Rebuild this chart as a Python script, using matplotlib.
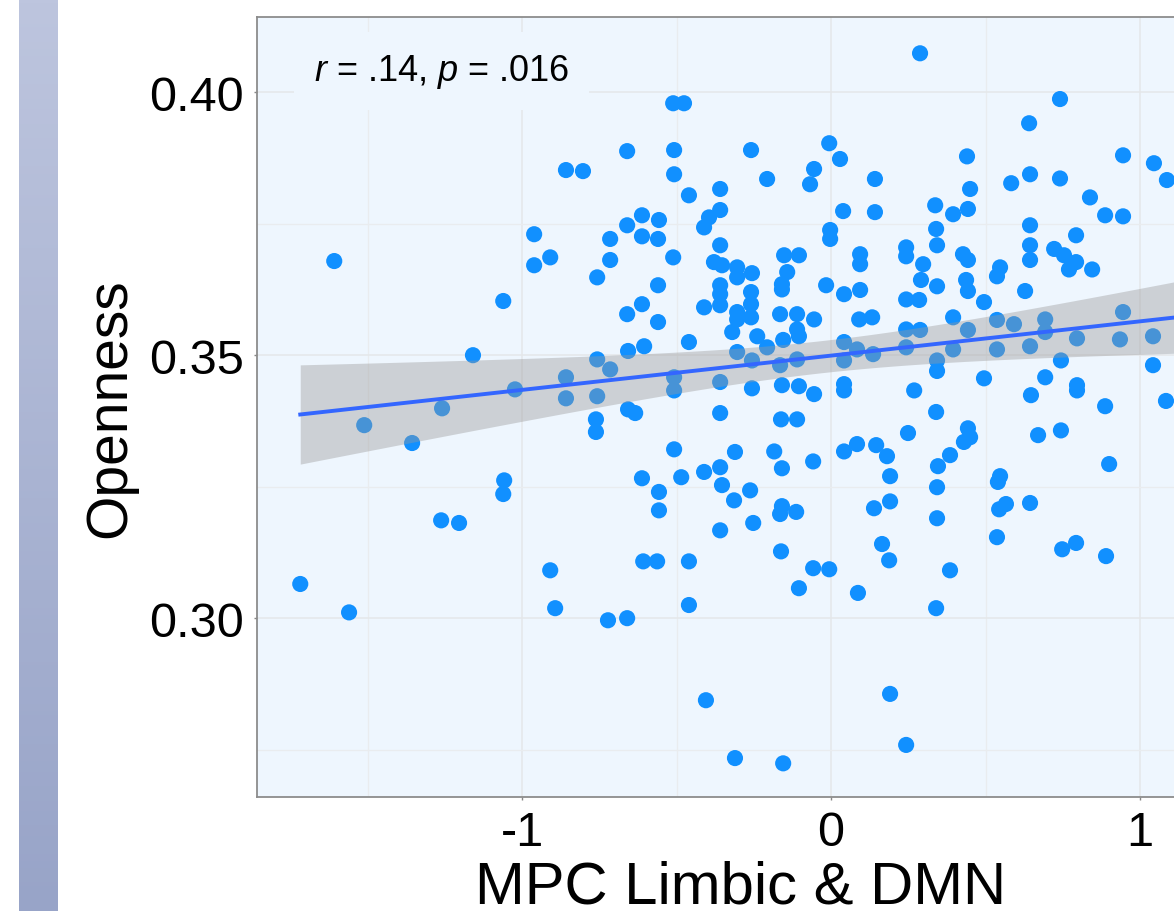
import numpy as np
import matplotlib
matplotlib.use('Agg')
import matplotlib.pyplot as plt
from matplotlib.colors import LinearSegmentedColormap

plt.rcParams['font.family'] = ['Liberation Sans', 'DejaVu Sans']
plt.rcParams['mathtext.fontset'] = 'custom'
plt.rcParams['mathtext.rm'] = 'Liberation Sans'
plt.rcParams['mathtext.it'] = 'Liberation Sans:italic'
plt.rcParams['axes.unicode_minus'] = False

# values (MPC Limbic & DMN score, Openness)
mpc = np.array([
    -1.718, -1.608, -1.560, -1.511, -1.356, -1.259, -1.262, -1.204, -1.159, -1.061,
    -1.058, -1.061, -1.023, -0.961, -0.909, -0.961, -0.858, -0.909, -0.893, -0.858,
    -0.858, -0.803, -0.511, -0.476, -0.660, -0.508, -0.259, -0.508, -0.207, -0.460,
    -0.359, -0.055, -0.068, -0.006, 0.029, 0.142, 0.039, 0.142, -0.359, -0.395,
    -0.411, -0.612, -0.660, -0.557, -0.612, -0.560, -0.715, -0.715, -0.757, -0.511,
    -0.359, -0.379, -0.353, -0.304, -0.304, -0.256, -0.152, -0.104, -0.142, -0.159,
    -0.159, -0.003, -0.003, -0.016, 0.042, 0.094, 0.094, 0.094, -0.560, -0.359,
    -0.359, -0.411, -0.359, -0.612, -0.660, -0.560, -0.259, -0.259, -0.304, -0.259,
    -0.304, -0.320, -0.239, -0.165, -0.110, -0.055, -0.110, -0.104, -0.155, -0.207,
    0.091, 0.133, -0.460, -0.605, -0.657, -0.757, -0.715, -0.304, -0.256, -0.165,
    -0.110, 0.042, 0.042, 0.084, 0.136, -0.508, -0.508, -0.359, -0.256, -0.159,
    -0.104, -0.055, 0.042, 0.042, -0.757, -0.657, -0.634, -0.359, -0.761, -0.761,
    -0.162, -0.110, -0.508, -0.311, -0.184, -0.159, -0.058, 0.042, 0.084, 0.146,
    -0.612, -0.485, -0.411, -0.359, -0.353, -0.314, -0.262, -0.557, -0.557, -0.159,
    -0.165, -0.113, 0.139, -0.359, -0.252, 0.165, -0.608, -0.563, -0.460, -0.162,
    -0.058, -0.006, -0.104, 0.087, -0.460, -0.722, -0.660, -0.405, -0.311, -0.155,
    0.288, 0.741, 0.641, 0.440, 0.945, 1.045, 1.087, 0.644, 0.741, 0.583,
    0.450, 0.337, 0.395, 0.443, 0.838, 0.887, 0.945, 0.644, 0.793, 0.340,
    0.343, 0.243, 0.243, 0.298, 0.427, 0.443, 0.644, 0.644, 0.722, 0.754,
    0.793, 0.770, 0.845, 0.547, 0.537, 0.291, 0.343, 0.437, 0.443, 0.495,
    0.628, 0.243, 0.285, 0.395, 0.243, 0.288, 0.243, 0.443, 0.537, 0.592,
    0.693, 0.693, 0.537, 0.395, 0.644, 0.796, 0.945, 0.935, 1.042, 0.343,
    0.343, 0.744, 1.042, 0.495, 0.693, 0.796, 0.796, 0.269, 0.647, 0.887,
    1.084, 0.340, 0.249, 0.443, 0.430, 0.450, 0.385, 0.346, 0.181, 0.191,
    0.343, 0.191, 0.343, 0.547, 0.540, 0.566, 0.544, 0.644, 0.537, 0.670,
    0.744, 0.900, 0.188, 0.385, 0.340, 0.748, 0.793, 0.890, 0.191, 0.243,
])
openness = np.array([
    0.3065, 0.3679, 0.3011, 0.3367, 0.3333, 0.3399, 0.3186, 0.3181, 0.3500, 0.3603,
    0.3262, 0.3236, 0.3435, 0.3730, 0.3686, 0.3671, 0.3852, 0.3091, 0.3019, 0.3458,
    0.3418, 0.3850, 0.3979, 0.3979, 0.3888, 0.3890, 0.3890, 0.3844, 0.3835, 0.3804,
    0.3816, 0.3854, 0.3825, 0.3903, 0.3873, 0.3835, 0.3774, 0.3772, 0.3776, 0.3762,
    0.3743, 0.3766, 0.3747, 0.3757, 0.3726, 0.3721, 0.3721, 0.3681, 0.3648, 0.3686,
    0.3709, 0.3677, 0.3671, 0.3667, 0.3648, 0.3656, 0.3690, 0.3690, 0.3658, 0.3635,
    0.3625, 0.3738, 0.3721, 0.3633, 0.3616, 0.3624, 0.3692, 0.3673, 0.3633, 0.3633,
    0.3616, 0.3591, 0.3595, 0.3597, 0.3578, 0.3563, 0.3620, 0.3597, 0.3582, 0.3572,
    0.3568, 0.3544, 0.3536, 0.3578, 0.3578, 0.3568, 0.3549, 0.3536, 0.3529, 0.3515,
    0.3568, 0.3572, 0.3525, 0.3517, 0.3508, 0.3492, 0.3473, 0.3506, 0.3490, 0.3481,
    0.3492, 0.3525, 0.3490, 0.3511, 0.3502, 0.3458, 0.3433, 0.3449, 0.3437, 0.3443,
    0.3441, 0.3426, 0.3445, 0.3433, 0.3422, 0.3397, 0.3390, 0.3390, 0.3378, 0.3354,
    0.3378, 0.3378, 0.3321, 0.3316, 0.3317, 0.3285, 0.3298, 0.3317, 0.3331, 0.3329,
    0.3266, 0.3268, 0.3278, 0.3287, 0.3253, 0.3224, 0.3243, 0.3240, 0.3205, 0.3213,
    0.3198, 0.3202, 0.3209, 0.3167, 0.3181, 0.3141, 0.3108, 0.3108, 0.3108, 0.3127,
    0.3095, 0.3093, 0.3057, 0.3048, 0.3025, 0.2996, 0.3000, 0.2844, 0.2734, 0.2724,
    0.4074, 0.3987, 0.3941, 0.3878, 0.3880, 0.3865, 0.3833, 0.3844, 0.3836, 0.3827,
    0.3816, 0.3785, 0.3768, 0.3778, 0.3800, 0.3766, 0.3764, 0.3747, 0.3728, 0.3740,
    0.3709, 0.3705, 0.3688, 0.3673, 0.3692, 0.3681, 0.3709, 0.3681, 0.3702, 0.3690,
    0.3677, 0.3663, 0.3663, 0.3667, 0.3650, 0.3643, 0.3631, 0.3643, 0.3622, 0.3601,
    0.3622, 0.3606, 0.3605, 0.3572, 0.3549, 0.3548, 0.3515, 0.3548, 0.3567, 0.3559,
    0.3568, 0.3544, 0.3511, 0.3511, 0.3517, 0.3532, 0.3582, 0.3530, 0.3536, 0.3490,
    0.3470, 0.3490, 0.3481, 0.3456, 0.3458, 0.3443, 0.3433, 0.3433, 0.3424, 0.3403,
    0.3413, 0.3392, 0.3352, 0.3361, 0.3335, 0.3344, 0.3310, 0.3289, 0.3308, 0.3270,
    0.3249, 0.3222, 0.3190, 0.3270, 0.3259, 0.3217, 0.3207, 0.3219, 0.3154, 0.3348,
    0.3357, 0.3293, 0.3110, 0.3091, 0.3019, 0.3131, 0.3143, 0.3118, 0.2856, 0.2759,
])

x_ticks = [-1, 0, 1]
x_tick_labels = ['-1', '0', '1']
y_ticks = [0.30, 0.35, 0.40]
y_tick_labels = ['0.30', '0.35', '0.40']
stat_label = r'$r$ = .14, $p$ = .016'

panel_bg = '#eef6fe'

fig = plt.figure(figsize=(11.74, 9.12), dpi=100)

# slide strip on the left
strip = fig.add_axes([19 / 1174, 0, 39 / 1174, 1])
grad = np.linspace(0, 1, 256).reshape(-1, 1)
strip.imshow(grad, aspect='auto',
             cmap=LinearSegmentedColormap.from_list('strip', ['#bdc5de', '#98a4c8']))
strip.axis('off')

# panel runs past the right edge (the picture is cropped)
ax = fig.add_axes([257 / 1174, 114 / 912, 968 / 1174, 780 / 912])
ax.set_facecolor(panel_bg)
ax.set_xlim(-1.858, 1.275)
ax.set_ylim(0.2660, 0.4143)

ax.scatter(mpc, openness, s=135, color='#1190ff', edgecolors='none', zorder=3)

# linear fit with 95% band, like geom_smooth(method = "lm")
n = len(mpc)
slope, intercept = np.polyfit(mpc, openness, 1)
resid = openness - (slope * mpc + intercept)
s = np.sqrt(np.sum(resid ** 2) / (n - 2))
xm = mpc.mean()
sxx = np.sum((mpc - xm) ** 2)
xs = np.linspace(mpc.min(), 1.275, 200)
fit = slope * xs + intercept
half = 1.97 * s * np.sqrt(1 / n + (xs - xm) ** 2 / sxx)
ax.fill_between(xs, fit - half, fit + half, color='#999999', alpha=0.4, lw=0, zorder=4)
ax.plot(xs, fit, color='#3366ff', lw=2.8, zorder=5)

ax.set_xticks(x_ticks)
ax.set_xticklabels(x_tick_labels)
ax.set_yticks(y_ticks)
ax.set_yticklabels(y_tick_labels)
ax.set_xticks([-1.5, -0.5, 0.5], minor=True)
ax.set_yticks([0.275, 0.325, 0.375], minor=True)
ax.set_axisbelow(True)
ax.grid(which='major', color='#e4e7ea', lw=1.1)
ax.grid(which='minor', color='#e9ecef', lw=1.0)
ax.tick_params(which='major', length=2.5, width=1, color='#888888',
               labelsize=35, pad=7, labelcolor='black')
ax.tick_params(which='minor', length=0)

for side in ['top', 'left', 'bottom']:
    ax.spines[side].set_color('#8c8c8c')
    ax.spines[side].set_linewidth(1.3)
ax.spines['right'].set_visible(False)

ax.set_xlabel('MPC Limbic & DMN', fontsize=43)
ax.set_ylabel('Openness', fontsize=41)
ax.xaxis.set_label_coords(0.5, -0.080)
ax.yaxis.set_label_coords(-0.124, 0.5)

ax.text(0.191, 0.931, stat_label, transform=ax.transAxes, fontsize=26,
        ha='center', va='center', zorder=6,
        bbox=dict(boxstyle='square,pad=0.55', fc=panel_bg, ec='none'))

fig.savefig('out.png', dpi=100)
